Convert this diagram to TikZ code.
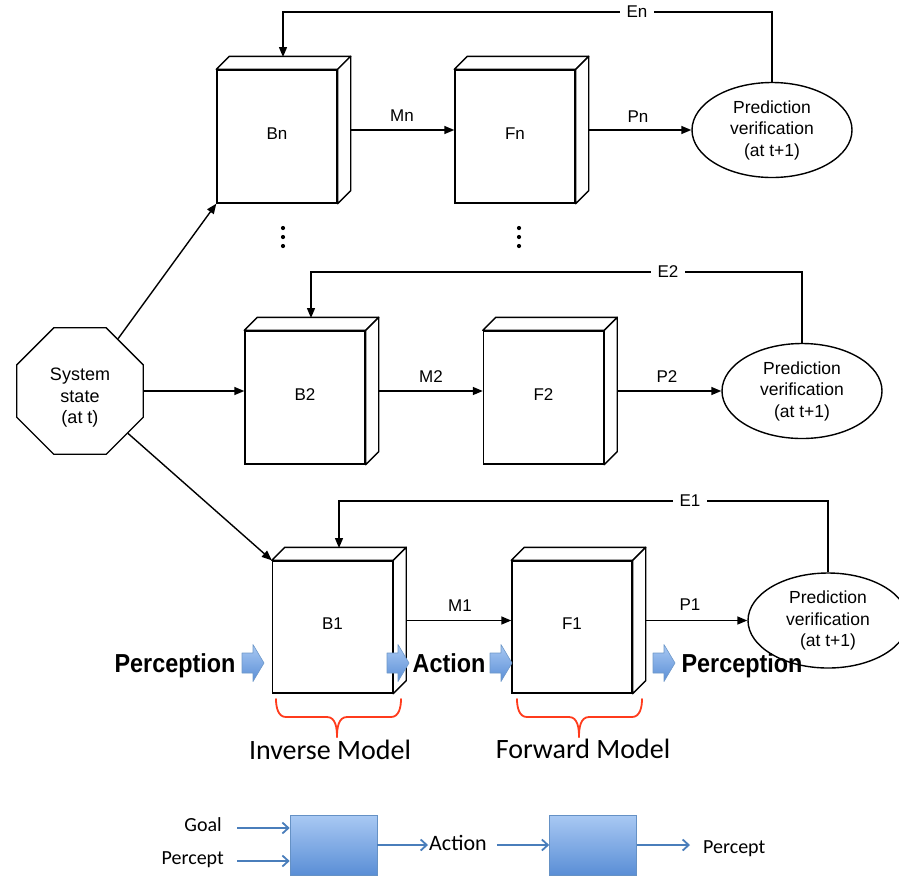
\documentclass[tikz,border=0pt]{standalone}
\usepackage{fontspec}
\setmainfont{Liberation Sans}
\newfontfamily\calib{Carlito}
\usetikzlibrary{arrows.meta,shapes.geometric,calc}

\definecolor{legblue}{HTML}{4A7EBB}
\definecolor{bracered}{HTML}{FF3B1C}
\definecolor{shadetop}{HTML}{A9C9F3}
\definecolor{shadebot}{HTML}{5A8ED6}

\tikzset{
  cube/.style={draw,line width=1.4pt,fill=white,minimum width=120pt,minimum height=133pt,
    inner sep=0pt,font=\fontsize{17}{20}\selectfont},
  depthface/.style={draw,line width=1.4pt,fill=white,line join=round},
  verif/.style={ellipse,draw,line width=1.4pt,fill=white,minimum width=160pt,minimum height=95pt,
    align=center,inner sep=0pt,font=\fontsize{17.5}{21.5}\selectfont},
  flow/.style={line width=1.4pt,-{Triangle[length=10pt,width=8pt]}},
  lbl/.style={font=\fontsize{17}{20}\selectfont,inner sep=1pt},
  elbl/.style={lbl,fill=white,inner sep=7pt},
  bigword/.style={font=\fontsize{26}{30}\bfseries\selectfont,anchor=base,inner sep=0pt},
  modelword/.style={font=\calib\fontsize{28}{32}\selectfont,anchor=base,inner sep=0pt},
  legword/.style={font=\calib\fontsize{20}{24}\selectfont,inner sep=2pt},
  legbox/.style={draw=legblue!85,line width=0.6pt,top color=shadetop,bottom color=shadebot,
    minimum width=87pt,minimum height=60pt,inner sep=0pt},
  legarrow/.style={draw=legblue,line width=1.8pt,
    -{Straight Barb[length=6pt,width=11pt,line width=1.8pt]}},
  brace/.style={draw=bracered,line width=1.8pt,line cap=round,line join=round},
  blockarrow/.pic={
    \shade[top color=shadetop,bottom color=shadebot,draw=legblue!80,line width=0.6pt,line join=round]
      (0,-10) -- (11,-10) -- (11,-18.5) -- (22,0) -- (11,18.5) -- (11,10) -- (0,10) -- cycle;
  },
}

\begin{document}
\begin{tikzpicture}[x=1pt,y=-1pt]
\useasboundingbox (0,0) rectangle (899,879);

% ---------- models: inverse (B) and forward (F) cubes ----------
\node[cube] (Bn) at (277,136.5) {\raisebox{6pt}{Bn}};
\node[cube] (Fn) at (515,136.5) {\raisebox{6pt}{Fn}};
\node[cube] (B2) at (305,397.5) {\raisebox{6pt}{B2}};
\node[cube] (F2) at (543.5,397.5) {\raisebox{6pt}{F2}};
\node[cube,minimum height=132pt] (B1) at (332.5,627) {\raisebox{6pt}{B1}};
\node[cube,minimum height=132pt] (F1) at (572,627) {\raisebox{6pt}{F1}};

\foreach \c in {Bn,Fn,B2,F2,B1,F1}{
  \draw[depthface] (\c.north west) -- ++(13,-13) -- ($(\c.north east)+(13,-13)$) -- (\c.north east) -- cycle;
  \draw[depthface] (\c.north east) -- ++(13,-13) -- ($(\c.south east)+(13,-13)$) -- (\c.south east) -- cycle;
}

% ---------- prediction verification ----------
\node[verif] (Vn) at (772,130) {Prediction\\verification\\(at t+1)};
\node[verif] (V2) at (802,391) {Prediction\\verification\\(at t+1)};
\node[verif] (V1) at (828,620.5) {Prediction\\verification\\(at t+1)};

% ---------- system state ----------
\node[regular polygon,regular polygon sides=8,draw,line width=1.4pt,fill=white,
      minimum size=137pt,inner sep=0pt] (sys) at (80,391) {};
\node[align=center,font=\fontsize{18}{21.5}\selectfont] (systext) at (80,398) {System\\state\\(at t)};

\draw[flow] (sys) -- (Bn.south west);
\draw[flow] (sys) -- ($(B2.west)+(0,-6.5)$);
\draw[flow] (sys) -- (B1.north west);

% ---------- motor commands and predictions ----------
\foreach \b/\f/\v in {Bn/Fn/Vn,B2/F2/V2,B1/F1/V1}{
  \draw[flow] ($(\b.east)+(13,-6.5)$) -- ($(\f.west)+(0,-6.5)$);
  \draw[flow] ($(\f.east)+(13,-6.5)$) -- (\v.west);
}
\node[lbl] (Mn) at (402,116) {Mn};
\node[lbl] (Pn) at (638,117) {Pn};
\node[lbl] (M2) at (431,377) {M2};
\node[lbl] (P2) at (667,377) {P2};
\node[lbl] (M1) at (460,606) {M1};
\node[lbl] (P1) at (690,605) {P1};

% ---------- error feedback ----------
\coordinate (EnBend) at (283,12);  \coordinate (EnIn) at (283,57);
\coordinate (E2Bend) at (311,272); \coordinate (E2In) at (311,318);
\coordinate (E1Bend) at (339,501); \coordinate (E1In) at (339,548);
\draw[flow] (Vn.north) |- (EnBend) -- (EnIn);
\draw[flow] (V2.north) |- (E2Bend) -- (E2In);
\draw[flow] (V1.north) |- (E1Bend) -- (E1In);
\node[elbl] (En) at (637,12) {En};
\node[elbl] (E2) at (668,272) {E2};
\node[elbl] (E1) at (690,501) {E1};

% ---------- vertical ellipses ----------
\foreach \x in {283,519}{
  \foreach \y in {228,237,246} \fill (\x,\y) circle (2.1);
}

% ---------- perception / action flow ----------
\pic at (242,663) {blockarrow};
\pic at (387,663) {blockarrow};
\pic at (490,663) {blockarrow};
\pic at (653,663) {blockarrow};
\node[bigword] (perc1) at (175,672) {\scalebox{0.9}[1]{Perception}};
\node[bigword] (act1) at (449,672) {\scalebox{0.9}[1]{Action}};
\node[bigword] (perc2) at (742,672) {\scalebox{0.9}[1]{Perception}};

% ---------- braces ----------
\draw[brace] (276,699) to[out=-90,in=180] (286,717) -- (327,717) to[out=0,in=90] (337,737);
\draw[brace] (401,699) to[out=-90,in=0] (391,717) -- (347,717) to[out=180,in=90] (337,737);
\draw[brace] (517,699) to[out=-90,in=180] (527,717) -- (569,717) to[out=0,in=90] (579,737);
\draw[brace] (642,699) to[out=-90,in=0] (632,717) -- (589,717) to[out=180,in=90] (579,737);
\node[modelword] (inv) at (330,759) {Inverse Model};
\node[modelword] (fwd) at (583,758) {Forward Model};

% ---------- legend ----------
\node[legbox] (L1) at (333.5,845) {};
\node[legbox] (L2) at (593,845) {};
\node[legword,anchor=base east] (goal) at (224,831) {Goal};
\node[legword,anchor=base east] (pin) at (226,864) {Percept};
\node[legword,anchor=base west,font=\calib\fontsize{22}{26}\selectfont] (act) at (427,850) {Action};
\node[legword,anchor=base west] (pout) at (701,853) {Percept};
\draw[legarrow] ($(goal.base east)+(13,-3)$) coordinate (ga) -- (ga -| L1.west);
\draw[legarrow] ($(pin.base east)+(11,-3)$) coordinate (pa) -- (pa -| L1.west);
\draw[legarrow] (L1.east) -- ($(L1.east -| act.west)+(1,0)$);
\draw[legarrow,shorten <=8pt] (act.east |- L2.west) -- (L2.west);
\draw[legarrow] (L2.east) -- ($(L2.east -| pout.west)+(-11,0)$);
\end{tikzpicture}
\end{document}
